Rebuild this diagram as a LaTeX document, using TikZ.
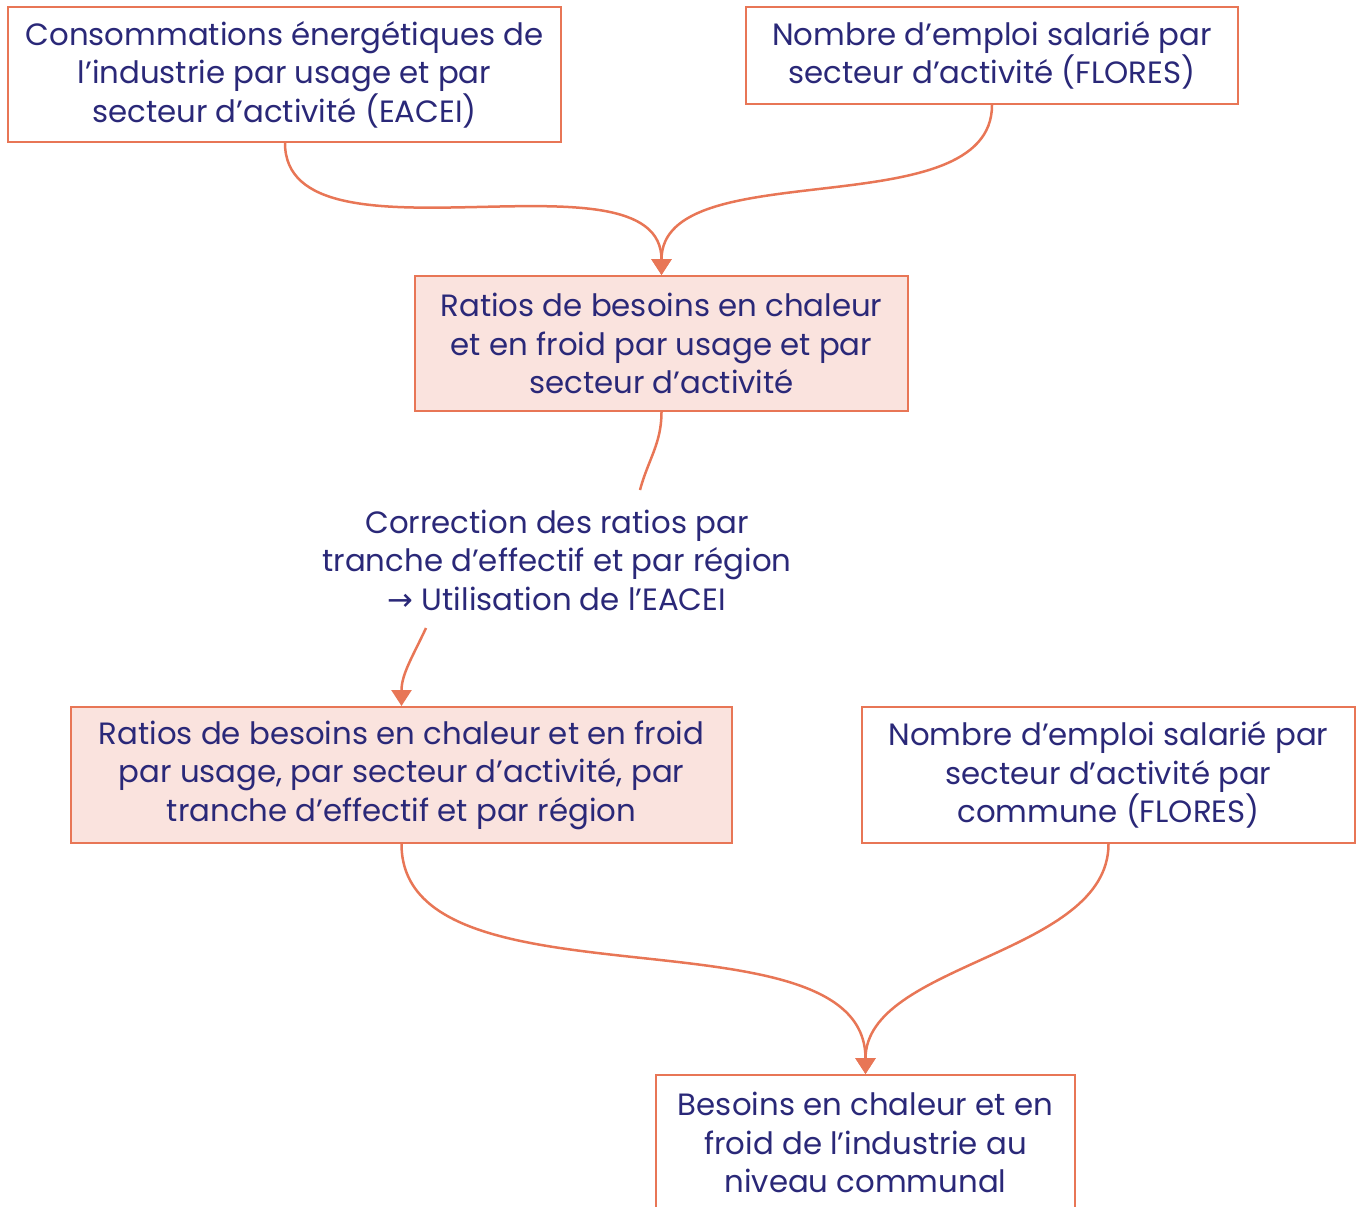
\documentclass[tikz,border=0pt]{standalone}
\usepackage{fontspec}
\setmainfont{Poppins}
\newfontfamily\symb{DejaVu Sans}
\usetikzlibrary{arrows.meta}
\definecolor{orangeF}{RGB}{232,118,86}
\definecolor{roseF}{RGB}{250,227,222}
\definecolor{bleuF}{RGB}{42,40,120}
\tikzset{
    texte/.style={text=bleuF, align=center, inner sep=0pt, font=\fontsize{30.8}{38.5}\selectfont}, % texte bleu
    boite/.style={texte, draw=orangeF, line width=2pt}, % cadre blanc
    ratio/.style={boite, fill=roseF}, % cadre rose
    lien/.style={draw=orangeF, line width=2.5pt}, % trait simple
    fleche/.style={lien, -{Triangle[width=20pt,length=16pt]}} % trait avec pointe
}

\begin{document}
\begin{tikzpicture}[x=1pt, y=1pt]
    \useasboundingbox (0,0) rectangle (1360,-1207);

    \node[boite, minimum width=553pt, minimum height=135pt] (conso) at (284.5,-74.5)
        {Consommations énergétiques de\\l’industrie par usage et par\\secteur d’activité (EACEI)};
    \node[boite, minimum width=492pt, minimum height=97pt] (emploi) at (992,-55.5)
        {Nombre d’emploi salarié par\\secteur d’activité (FLORES)};
    \node[ratio, minimum width=493pt, minimum height=135pt] (ratios) at (661.5,-343.5)
        {Ratios de besoins en chaleur\\et en froid par usage et par\\secteur d’activité};
    \node[texte] (correction) at (557,-560)
        {Correction des ratios par\\tranche d’effectif et par région\\{\symb →} Utilisation de l’EACEI};
    \node[ratio, minimum width=661pt, minimum height=136pt] (ratiosreg) at (401.5,-775)
        {Ratios de besoins en chaleur et en froid\\par usage, par secteur d’activité, par\\tranche d’effectif et par région};
    \node[boite, minimum width=493pt, minimum height=136pt] (emploicom) at (1108.5,-775)
        {Nombre d’emploi salarié par\\secteur d’activité par\\commune (FLORES)};
    \node[boite, minimum width=419pt, minimum height=135pt] (besoins) at (865.5,-1142.5)
        {Besoins en chaleur et en\\froid de l’industrie au\\niveau communal};

    \coordinate (c1) at (640,-490);
    \coordinate (c2) at (426,-628);

    \draw[fleche] (conso.south -| 285,0) to[out=-90, in=90, looseness=0.85] (ratios.north);
    \draw[fleche] (emploi.south) to[out=-90, in=90, looseness=0.85] (ratios.north);
    \draw[lien] (ratios.south) to[out=-90, in=75] (c1);
    \draw[fleche] (c2) to[out=-115, in=90] (ratiosreg.north);
    \draw[fleche] (ratiosreg.south) to[out=-90, in=90, looseness=0.85] (besoins.north);
    \draw[fleche] (emploicom.south) to[out=-90, in=90, looseness=0.85] (besoins.north);
\end{tikzpicture}
\end{document}
